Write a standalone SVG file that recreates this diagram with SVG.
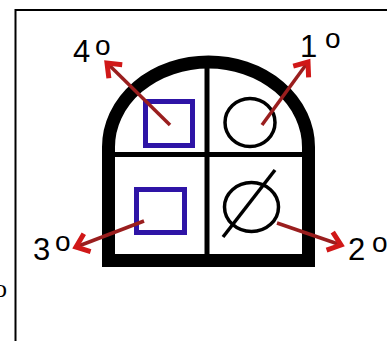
<svg xmlns="http://www.w3.org/2000/svg" width="387" height="341" viewBox="0 0 387 341">
<style>
.lbl{font-family:"Liberation Sans",Arial,sans-serif;font-size:31px;fill:#000}
.sup{font-size:28px}
.blue{fill:none;stroke:#2e14a6;stroke-width:5}
.blk{fill:none;stroke:#000;stroke-width:3.5}
.arr{stroke:#9a1e1e;stroke-width:3.5;fill:none;marker-end:url(#ah)}
</style>
<defs>
<marker id="ah" markerUnits="userSpaceOnUse" markerWidth="24" markerHeight="24" viewBox="-16 -12 20 24" refX="0" refY="0" orient="auto" overflow="visible">
<path d="M-12,-9.5 L0,0 L-12,9.5" fill="none" stroke="#d01818" stroke-width="5" stroke-linejoin="miter"/>
</marker>
</defs>
<rect width="387" height="341" fill="#fff"/>
<g id="border">
<line x1="15.5" y1="9" x2="15.5" y2="341" stroke="#000" stroke-width="2"/>
<line x1="15" y1="10" x2="387" y2="10" stroke="#000" stroke-width="2"/>
<text x="-6" y="297" font-family="Liberation Serif,serif" font-size="26">o</text>
</g>
<g id="window">
<path d="M108.5,260.5 L108.5,147 A100,85 0 0 1 308.5,147 L308.5,260.5 Z" fill="#fff" stroke="#000" stroke-width="13"/>
<line x1="207" y1="62" x2="207" y2="256" stroke="#000" stroke-width="5"/>
<line x1="115" y1="154.5" x2="302" y2="154.5" stroke="#000" stroke-width="5"/>
</g>
<g id="q4"><rect class="blue" x="145.5" y="101.5" width="47" height="44"/></g>
<g id="q1"><ellipse class="blk" cx="250" cy="122.5" rx="25" ry="24"/></g>
<g id="q3"><rect class="blue" x="136.5" y="189.5" width="48" height="43"/></g>
<g id="q2">
<ellipse class="blk" cx="251.5" cy="207" rx="27" ry="24.5"/>
<line class="blk" x1="275" y1="170" x2="223" y2="237"/>
</g>
<g id="connectors">
<line class="arr" x1="170" y1="125" x2="107" y2="63"/>
<line class="arr" x1="262" y1="125" x2="308" y2="62"/>
<line class="arr" x1="144" y1="221" x2="76" y2="247"/>
<line class="arr" x1="277" y1="223" x2="341" y2="245"/>
</g>
<g id="labels">
<text class="lbl" x="73" y="62">4<tspan class="sup" x="95" y="55">o</tspan></text>
<text class="lbl" x="300" y="57">1<tspan class="sup" x="325" y="48">o</tspan></text>
<text class="lbl" x="33" y="260">3<tspan class="sup" x="55" y="251">o</tspan></text>
<text class="lbl" x="348" y="260">2<tspan class="sup" x="372" y="252">o</tspan></text>
</g>
</svg>
